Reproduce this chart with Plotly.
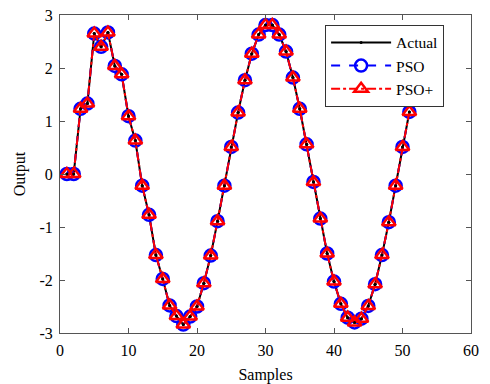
import plotly.graph_objects as go

samples = list(range(1, 52))
actual = [0.00, 0.00, 1.23, 1.33, 2.65, 2.40, 2.67, 2.04, 1.88, 1.09,
          0.63, -0.22, -0.77, -1.53, -1.98, -2.48, -2.68, -2.84, -2.69, -2.50,
          -2.06, -1.54, -0.89, -0.22, 0.51, 1.16, 1.77, 2.27, 2.63, 2.81,
          2.81, 2.63, 2.31, 1.82, 1.23, 0.56, -0.15, -0.84, -1.50, -2.03,
          -2.45, -2.71, -2.80, -2.73, -2.49, -2.08, -1.53, -0.91, -0.22, 0.51,
          1.17]
pso = [0.00, 0.00, 1.23, 1.33, 2.65, 2.40, 2.67, 2.04, 1.88, 1.09,
       0.63, -0.22, -0.77, -1.53, -1.98, -2.48, -2.68, -2.84, -2.69, -2.50,
       -2.06, -1.54, -0.89, -0.22, 0.51, 1.16, 1.77, 2.27, 2.63, 2.81,
       2.81, 2.63, 2.31, 1.82, 1.23, 0.56, -0.15, -0.84, -1.50, -2.03,
       -2.45, -2.71, -2.80, -2.73, -2.49, -2.08, -1.53, -0.91, -0.22, 0.51,
       1.17]
pso_plus = [0.00, 0.00, 1.23, 1.33, 2.65, 2.40, 2.67, 2.04, 1.88, 1.09,
            0.63, -0.22, -0.77, -1.53, -1.98, -2.48, -2.68, -2.84, -2.69, -2.50,
            -2.06, -1.54, -0.89, -0.22, 0.51, 1.16, 1.77, 2.27, 2.63, 2.81,
            2.81, 2.63, 2.31, 1.82, 1.23, 0.56, -0.15, -0.84, -1.50, -2.03,
            -2.45, -2.71, -2.80, -2.73, -2.49, -2.08, -1.53, -0.91, -0.22, 0.51,
            1.17]

x_ticks = [0, 10, 20, 30, 40, 50, 60]
x_tick_labels = ["0", "10", "20", "30", "40", "50", "60"]
y_ticks = [-3, -2, -1, 0, 1, 2, 3]
y_tick_labels = ["-3", "-2", "-1", "0", "1", "2", "3"]

FONT = "Liberation Serif"

fig = go.Figure()
fig.add_trace(go.Scatter(
    x=samples, y=actual, name="Actual", mode="lines+markers",
    line=dict(color="black", width=2),
    marker=dict(symbol="circle", size=3, color="black"),
))
fig.add_trace(go.Scatter(
    x=samples, y=pso, name="PSO", mode="lines+markers",
    line=dict(color="#0000ff", width=2, dash="dash"),
    marker=dict(symbol="circle-open", size=12, color="#0000ff", line=dict(width=2.5, color="#0000ff")),
))
fig.add_trace(go.Scatter(
    x=samples, y=pso_plus, name="PSO+", mode="lines+markers",
    line=dict(color="#ff0000", width=2, dash="dashdot"),
    marker=dict(symbol="triangle-up-open", size=12, color="#ff0000", line=dict(width=2.5, color="#ff0000")),
))
# black dots on top
fig.add_trace(go.Scatter(
    x=samples, y=actual, mode="markers", showlegend=False, hoverinfo="skip",
    marker=dict(symbol="circle", size=3, color="black"),
))

axis_common = dict(
    showgrid=False, zeroline=False, showline=True, linecolor="#555555", linewidth=1,
    mirror="ticks", ticks="inside", ticklen=5, tickcolor="#555555",
    tickfont=dict(family=FONT, size=16, color="black"), automargin=False,
)
fig.update_xaxes(range=[0, 60], tickvals=x_ticks, ticktext=x_tick_labels, ticklabelstandoff=3,
                 title=dict(text="Samples", font=dict(family=FONT, size=16, color="black"), standoff=12),
                 **axis_common)
fig.update_yaxes(range=[-3, 3], tickvals=y_ticks, ticktext=y_tick_labels, ticklabelstandoff=3,
                 title=dict(text="Output", font=dict(family=FONT, size=16, color="black"), standoff=9),
                 **axis_common)

fig.update_layout(
    width=490, height=384,
    margin=dict(l=60, r=19, t=15, b=51),
    paper_bgcolor="white", plot_bgcolor="white",
    font=dict(family=FONT, size=16, color="black"),
    legend=dict(
        x=0.645, y=0.969, xanchor="left", yanchor="top",
        bgcolor="white", bordercolor="#333333", borderwidth=1,
        font=dict(family=FONT, size=15.5, color="black"),
        itemwidth=60, tracegroupgap=0,
    ),
    showlegend=True,
)

fig.write_html("out.html", config={"displayModeBar": False},
               post_script="document.body.style.margin='0';document.body.style.overflow='hidden';")
